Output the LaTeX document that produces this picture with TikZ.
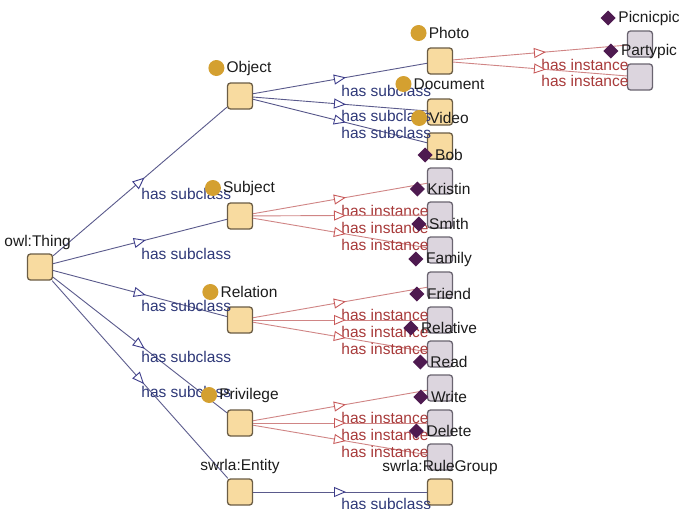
\documentclass[tikz,border=0pt]{standalone}
\usepackage{fontspec}
\setmainfont{Liberation Sans}
\usetikzlibrary{arrows.meta,decorations.markings}
\definecolor{clsfill}{HTML}{F8DBA0}
\definecolor{clsborder}{HTML}{6B5D45}
\definecolor{indfill}{HTML}{DCD5DE}
\definecolor{indborder}{HTML}{6A6470}
\definecolor{ochre}{HTML}{D4A030}
\definecolor{plum}{HTML}{4E1A50}
\definecolor{subline}{HTML}{5A5A8C}
\definecolor{subarrow}{HTML}{3C3C8A}
\definecolor{subtext}{HTML}{2E3878}
\definecolor{instline}{HTML}{D08585}
\definecolor{instarrow}{HTML}{C85A5A}
\definecolor{insttext}{HTML}{A83A3A}
\definecolor{lbltext}{HTML}{1C1C1C}
\newcommand\mkclslabel[2]{%
  \node[nlbl] (#1-l) at ([yshift=28pt]#1.center) {\hspace*{18pt}#2};
  \fill[ochre] ([xshift=8pt]#1-l.west) circle[radius=8pt];}
\newcommand\mkindlabel[2]{%
  \node[nlbl] (#1-l) at ([yshift=26pt]#1.center) {\hspace*{18pt}#2};
  \fill[plum] ([xshift=8pt]#1-l.west) ++(-7.5pt,0) -- ++(7.5pt,7.5pt) -- ++(7.5pt,-7.5pt) -- ++(-7.5pt,-7.5pt) -- cycle;}
\begin{document}
\begin{tikzpicture}[x=1pt,y=-1pt,
  cls/.style={draw=clsborder, fill=clsfill, rounded corners=3pt, minimum width=25pt, minimum height=26pt, line width=1.3pt, inner sep=0pt},
  ind/.style={draw=indborder, fill=indfill, rounded corners=3pt, minimum width=25pt, minimum height=26pt, line width=1.3pt, inner sep=0pt},
  nlbl/.style={text=lbltext, font=\fontsize{15.5}{18}\selectfont, inner sep=0pt},
  sub/.style={draw=subline, line width=0.9pt, postaction={decorate},
    decoration={markings, mark=at position 0.5 with {\arrow[xshift=6pt]{Triangle[length=12pt,width=10pt,color=subarrow,fill=white,line width=0.9pt]}}}},
  inst/.style={draw=instline, line width=0.9pt, postaction={decorate},
    decoration={markings, mark=at position 0.5 with {\arrow[xshift=6pt]{Triangle[length=12pt,width=10pt,color=instarrow,fill=white,line width=0.9pt]}}}},
  sublbl/.style={text=subtext, font=\fontsize{15.5}{18}\selectfont, inner sep=0pt, anchor=west, xshift=1pt, yshift=-12pt},
  instlbl/.style={text=insttext, font=\fontsize{15.5}{18}\selectfont, inner sep=0pt, anchor=west, xshift=1pt, yshift=-12pt}]
\fill[white] (0,0) rectangle (689,509);
\useasboundingbox (0,0) rectangle (689,509);
% class nodes
\node[cls] (thing) at (40,267) {};
\node[cls] (object) at (240,96) {};
\node[cls] (subject) at (240,216) {};
\node[cls] (relation) at (240,320) {};
\node[cls] (privilege) at (240,423) {};
\node[cls] (entity) at (240,492) {};
\node[cls] (photo) at (440,61) {};
\node[cls] (document) at (440,112) {};
\node[cls] (video) at (440,146) {};
\node[cls] (rulegroup) at (440,492) {};
% individuals
\node[ind] (picnic) at (640,44) {};
\node[ind] (party) at (640,77) {};
\node[ind] (bob) at (440,181) {};
\node[ind] (kristin) at (440,215) {};
\node[ind] (smith) at (440,250) {};
\node[ind] (family) at (440,285) {};
\node[ind] (friend) at (440,320) {};
\node[ind] (relative) at (440,354) {};
\node[ind] (read) at (440,388) {};
\node[ind] (write) at (440,423) {};
\node[ind] (delete) at (440,457) {};
% subclass edges
\draw[sub] (thing) -- node[sublbl]{has subclass} (object);
\draw[sub] (thing) -- node[sublbl]{has subclass} (subject);
\draw[sub] (thing) -- node[sublbl]{has subclass} (relation);
\draw[sub] (thing) -- node[sublbl]{has subclass} (privilege);
\draw[sub] (thing) -- node[sublbl]{has subclass} (entity);
\draw[sub] (object) -- node[sublbl]{has subclass} (photo);
\draw[sub] (object) -- node[sublbl]{has subclass} (document);
\draw[sub] (object) -- node[sublbl]{has subclass} (video);
\draw[sub] (entity) -- node[sublbl]{has subclass} (rulegroup);
% instance edges
\draw[inst] (photo) -- node[instlbl]{has instance} (picnic);
\draw[inst] (photo) -- node[instlbl]{has instance} (party);
\draw[inst] (subject) -- node[instlbl]{has instance} (bob);
\draw[inst] (subject) -- node[instlbl]{has instance} (kristin);
\draw[inst] (subject) -- node[instlbl]{has instance} (smith);
\draw[inst] (relation) -- node[instlbl]{has instance} (family);
\draw[inst] (relation) -- node[instlbl]{has instance} (friend);
\draw[inst] (relation) -- node[instlbl]{has instance} (relative);
\draw[inst] (privilege) -- node[instlbl]{has instance} (read);
\draw[inst] (privilege) -- node[instlbl]{has instance} (write);
\draw[inst] (privilege) -- node[instlbl]{has instance} (delete);
% labels
\node[nlbl, anchor=east] (thing-l) at (71,242) {owl:Thing};
\mkclslabel{object}{Object}
\mkclslabel{subject}{Subject}
\mkclslabel{relation}{Relation}
\mkclslabel{privilege}{Privilege}
\node[nlbl] (entity-l) at ([yshift=26pt]entity.center) {swrla:Entity};
\mkclslabel{photo}{Photo}
\mkclslabel{document}{Document}
\mkclslabel{video}{Video}
\node[nlbl] (rulegroup-l) at ([yshift=25pt]rulegroup.center) {swrla:RuleGroup};
\mkindlabel{picnic}{Picnicpic}
\mkindlabel{party}{Partypic}
\mkindlabel{bob}{Bob}
\mkindlabel{kristin}{Kristin}
\mkindlabel{smith}{Smith}
\mkindlabel{family}{Family}
\mkindlabel{friend}{Friend}
\mkindlabel{relative}{Relative}
\mkindlabel{read}{Read}
\mkindlabel{write}{Write}
\mkindlabel{delete}{Delete}
\end{tikzpicture}
\end{document}
